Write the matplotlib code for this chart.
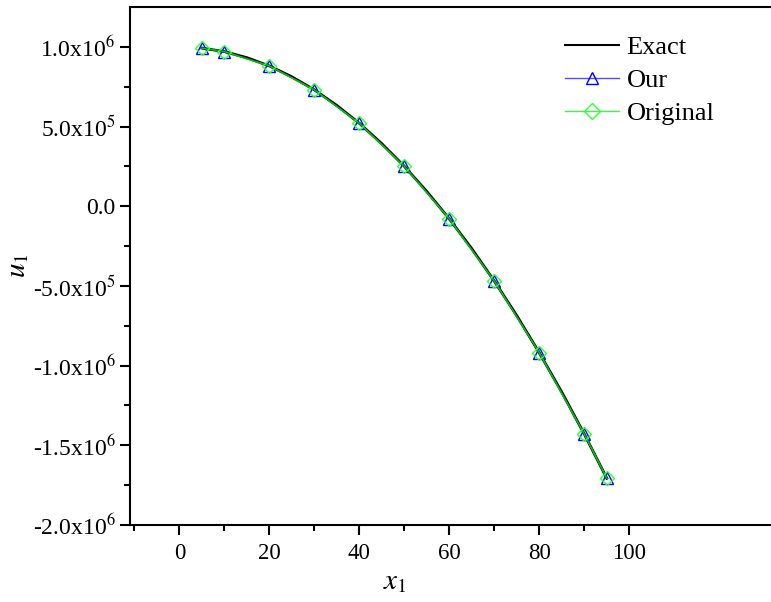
import matplotlib as mpl
import numpy as np
from matplotlib import pyplot as plt
from matplotlib.lines import Line2D
from matplotlib.ticker import FixedLocator, FuncFormatter

mpl.rcParams['font.family'] = ['Liberation Serif', 'DejaVu Serif']
mpl.rcParams['mathtext.fontset'] = 'stix'

# exact solution
x_exact = [5, 10, 15, 20, 25, 30, 35, 40, 45, 50, 55, 60, 65, 70, 75, 80, 85, 90, 95]
u_exact = [992000, 970000, 932000, 880000, 812000, 730000, 632000, 520000, 392000,
           250000, 92000, -80000, -267000, -470000, -687000, -920000, -1167000,
           -1430000, -1707000]

# sample points (both methods overlap the exact curve)
x_pts = [5, 10, 20, 30, 40, 50, 60, 70, 80, 90, 95]
u_our = [992000, 970000, 880000, 730000, 520000, 250000, -80000, -470000, -920000,
         -1430000, -1707000]
u_orig = [992000, 970000, 880000, 730000, 520000, 250000, -80000, -470000, -920000,
          -1430000, -1707000]

labels = ['Exact', 'Our', 'Original']
x_ticks = [0, 20, 40, 60, 80, 100]
x_minor = [-10, 10, 30, 50, 70, 90]
y_ticks = [-2e6, -1.5e6, -1e6, -5e5, 0, 5e5, 1e6]
y_minor = [-1.75e6, -1.25e6, -7.5e5, -2.5e5, 2.5e5, 7.5e5]


def sci_fmt(v, pos):
    if v == 0:
        return '0.0'
    exp = int(np.floor(np.log10(abs(v))))
    mant = v / 10 ** exp
    return r'%.1fx10$^{%d}$' % (mant, exp)


fig = plt.figure(figsize=(7.71, 6.02), dpi=100)
ax = fig.add_axes([130 / 771, 77 / 602, 1 - 130 / 771, 518 / 602])

ax.plot(x_exact, u_exact, color='black', lw=2.0, zorder=2)
ax.plot(x_pts, u_our, color='#3030ff', lw=0.8, marker='^', ms=8,
        mfc='none', mec='blue', mew=1.0, zorder=3)
ax.plot(x_pts, u_orig, color='#00c000', lw=1.2, marker='D', ms=7,
        mfc='none', mec='#33ff33', mew=1.0, zorder=3)

ax.set_xlim(-11, 131.5)
ax.set_ylim(-2e6, 1.25e6)
ax.set_xticks(x_ticks)
ax.xaxis.set_minor_locator(FixedLocator(x_minor))
ax.set_yticks(y_ticks)
ax.yaxis.set_minor_locator(FixedLocator(y_minor))
ax.yaxis.set_major_formatter(FuncFormatter(sci_fmt))

ax.tick_params(which='both', direction='out', width=1.5)
ax.tick_params(axis='y', labelsize=17)
ax.tick_params(axis='x', labelsize=16.5, pad=6)
ax.tick_params(which='major', length=7)
ax.tick_params(which='minor', length=4)
for s in ['left', 'bottom', 'top']:
    ax.spines[s].set_linewidth(1.5)
ax.spines['right'].set_visible(False)

ax.set_xlabel(r'$x_1$', fontsize=21)
ax.xaxis.set_label_coords(0.413, -0.085)
ax.set_ylabel(r'$u_1$', fontsize=21, labelpad=1)

leg_handles = [
    Line2D([0], [0], color='black', lw=1.5),
    Line2D([0], [0], color='#5050ff', lw=1.0, marker='^', ms=9, mfc='none', mec='blue'),
    Line2D([0], [0], color='#33ff33', lw=1.0, marker='D', ms=8, mfc='none', mec='#33ff33'),
]
ax.legend(leg_handles, labels, loc='upper left', bbox_to_anchor=(554 / 771, 1 - 25 / 602),
          bbox_transform=fig.transFigure, borderaxespad=0,
          frameon=False, fontsize=19, handlelength=2.08, handletextpad=0.27,
          labelspacing=0.37)

fig.savefig('out.png', dpi=100)
